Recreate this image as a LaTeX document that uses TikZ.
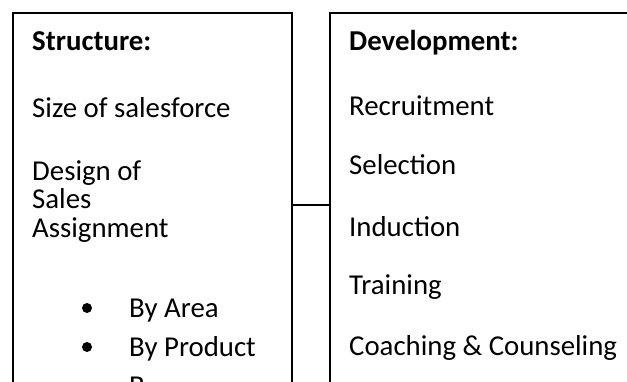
\documentclass[tikz,border=0pt]{standalone}
\usepackage{fontspec}
\setmainfont{Carlito}
\begin{document}
\begin{tikzpicture}[x=1pt,y=-1pt,
  boxstyle/.style={draw=black,line width=2pt,rectangle,inner sep=0pt,anchor=north west},
  txt/.style={anchor=base west,inner sep=0pt,font=\fontsize{28.8}{34}\selectfont},
  head/.style={txt,font=\fontsize{28.8}{34}\selectfont\bfseries},
  bul/.style={circle,fill=black,inner sep=0pt,minimum size=10pt}]
\useasboundingbox (0,0) rectangle (627,381);
\clip (0,0) rectangle (627,381);
\fill[white] (0,0) rectangle (627,381);
% boxes
\node[boxstyle,minimum width=279pt,minimum height=385pt] (leftbox) at (12,11.5) {};
\node[boxstyle,minimum width=340pt,minimum height=385pt] (rightbox) at (328.5,11.5) {};
\draw[line width=2pt] (leftbox.east) -- (rightbox.west);
% left texts
\node[head] (s0) at (32,50) {Structure:};
\node[txt] (s1) at (32,117) {Size of salesforce};
\node[txt] (s2) at (32,180) {Design of};
\node[txt] (s3) at (32,208) {Sales};
\node[txt] (s4) at (32,237) {Assignment};
\node[bul] (b1) at (87,308) {};
\node[txt] (s5) at (129,317) {By Area};
\node[bul] (b2) at (87,347) {};
\node[txt] (s6) at (129,356) {By Product};
\node[txt] (s7) at (129,395) {B};
% right texts
\node[head] (d0) at (349,50) {Development:};
\node[txt] (d1) at (349,115) {Recruitment};
\node[txt] (d2) at (349,174) {Selection};
\node[txt] (d3) at (349,236) {Induction};
\node[txt] (d4) at (349,294) {Training};
\node[txt] (d5) at (349,355) {Coaching \& Counseling};
\end{tikzpicture}
\end{document}
